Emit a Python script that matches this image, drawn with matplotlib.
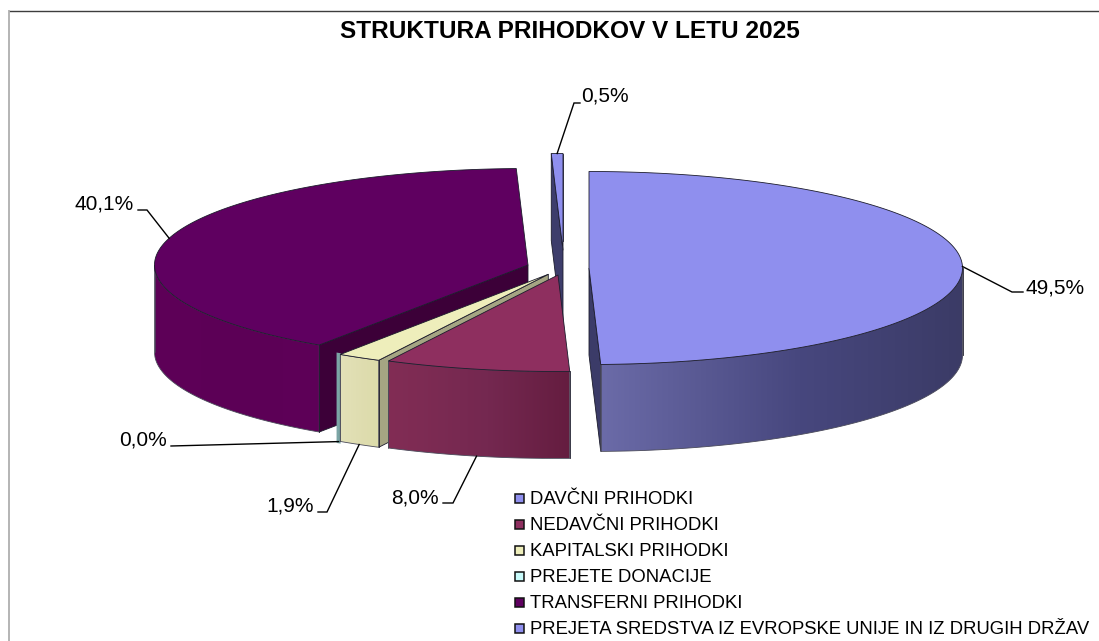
import numpy as np
import matplotlib
matplotlib.use("Agg")
import matplotlib.pyplot as plt
from matplotlib.colors import to_rgb
from matplotlib.patches import Polygon, Rectangle

plt.rcParams['font.family'] = ['Liberation Sans', 'DejaVu Sans']

# ---- data ----
title = "STRUKTURA PRIHODKOV V LETU 2025"
categories = ["DAVČNI PRIHODKI", "NEDAVČNI PRIHODKI", "KAPITALSKI PRIHODKI",
              "PREJETE DONACIJE", "TRANSFERNI PRIHODKI",
              "PREJETA SREDSTVA IZ EVROPSKE UNIJE IN IZ DRUGIH DRŽAV"]
shares = [49.5, 8.0, 1.9, 0.04, 40.06, 0.5]
share_labels = ["49,5%", "8,0%", "1,9%", "0,0%", "40,1%", "0,5%"]

# ---- styles and layout (pixels of the figure) ----
W, H = 1099, 641
RX, RY, DEPTH = 373.5, 96.5, 87
centers = [(589, 268), (558, 275), (548.3, 274.3), (547, 274.5), (528, 265), (563, 250)]
top_colors = ["#8f8fee", "#8e2f5f", "#eeeebb", "#c8fbfb", "#5f0060", "#8f8fee"]
cut_colors = ["#3b3b68", "#641d40", "#a5a583", "#7ba5a5", "#3c0038", "#3d3d6b"]
wall_stops = [
    ["#6b6ba8", "#47477e", "#3b3b66"],
    ["#822d55", "#742850", "#651d40"],
    ["#e3e1b8", "#dfddb0", "#dcdcaa"],
    ["#7ba5a5", "#7ba5a5", "#7ba5a5"],
    ["#5e0058", "#5c0056", "#5e0058"],
    ["#6b6ba8", "#47477e", "#3b3b66"],
]
edge = "#1c1c2c"
draw_order = [5, 4, 3, 2, 1, 0]

fig = plt.figure(figsize=(W / 100, H / 100), dpi=100, facecolor="white")
ax = fig.add_axes([0, 0, 1, 1])
ax.axis("off")

# chart frame
ax.plot([9, W], [10.5, 10.5], color="#3d3d3d", lw=1.0, solid_capstyle="butt")
ax.plot([9, 9], [10, H], color="#a8a8a8", lw=1.2, solid_capstyle="butt")

bounds = np.cumsum([0] + shares) / sum(shares) * 2 * np.pi


def rim(i, ang):
    cx, cy = centers[i]
    return cx + RX * np.sin(ang), cy - RY * np.cos(ang)


def gradient_image(i):
    stops = np.array([to_rgb(c) for c in wall_stops[i]])
    t = np.linspace(0, 1, 256)
    return np.stack([np.interp(t, [0, .55, 1], stops[:, k]) for k in range(3)], axis=-1)[None, :, :]


for z, i in enumerate(draw_order):
    a0, a1 = bounds[i], bounds[i + 1]
    cx, cy = centers[i]
    base = 2 + z * 3
    thin = shares[i] < 0.1
    # flat cut faces that can be seen from the front
    for a, seen in ((a0, np.sin(a0) < -1e-6), (a1, np.sin(a1) > 1e-6)):
        if seen and not thin:
            x, y = rim(i, a)
            ax.add_patch(Polygon([(cx, cy), (x, y), (x, y + DEPTH), (cx, cy + DEPTH)], closed=True,
                                 fc=cut_colors[i], ec=edge, lw=0.6, zorder=base))
    if i == 5:
        x, y = rim(i, a1)
        ax.plot([x, x], [y, y + DEPTH], color=edge, lw=0.6, zorder=base)
    # outer rim with a smooth horizontal shade
    lo, hi = max(a0, np.pi / 2), min(a1, 3 * np.pi / 2)
    if hi > lo:
        ang = np.linspace(lo, hi, 120)
        xs, ys = rim(i, ang)
        outline = list(zip(xs, ys)) + list(zip(xs[::-1], ys[::-1] + DEPTH))
        img = ax.imshow(gradient_image(i), extent=(xs.min(), xs.max(), ys.max() + DEPTH, ys.min()),
                        aspect="auto", zorder=base + 1, interpolation="bilinear")
        clip = Polygon(outline, closed=True, transform=ax.transData, fc="none", ec="none")
        ax.add_patch(clip)
        img.set_clip_path(clip)
        if thin:
            ax.add_patch(Polygon(outline, closed=True, fc="none", ec=cut_colors[i], lw=2.4, zorder=base + 1))
        else:
            ax.add_patch(Polygon(outline, closed=True, fc="none", ec="#4a4a5a", lw=0.6, zorder=base + 1))
            ax.plot(xs[[0, 0]], [ys[0], ys[0] + DEPTH], color=edge, lw=0.6, zorder=base + 1)
            ax.plot(xs[[-1, -1]], [ys[-1], ys[-1] + DEPTH], color="#4a4a5a", lw=0.5, zorder=base + 1)
    # top face
    if not thin:
        ang = np.linspace(a0, a1, max(int((a1 - a0) * 60), 3))
        xs, ys = rim(i, ang)
        ax.add_patch(Polygon([(cx, cy)] + list(zip(xs, ys)), closed=True, fc=top_colors[i],
                             ec=edge, lw=0.6, zorder=base + 2, joinstyle="round"))

# leader lines and value labels
label_elbows = [(1012, 292), (453, 503), (327, 512), None, (147, 210), (574, 103)]
label_ends = [(1023, 292), (443, 503), (318, 512), (171, 446), (138, 210), (580, 103)]
label_text = [(1026, 294), (439, 503), (314, 511), (167, 445), (134, 209), (581, 102)]
label_ha = ["left", "right", "right", "right", "right", "left"]
on_lower_rim = [False, True, True, True, False, False]
for i, lab in enumerate(share_labels):
    mid = (bounds[i] + bounds[i + 1]) / 2
    x, y = rim(i, mid)
    if on_lower_rim[i]:
        y += DEPTH
    pts = [(x, y)] + ([label_elbows[i]] if label_elbows[i] else []) + [label_ends[i]]
    ax.plot(*zip(*pts), color="black", lw=1.0, zorder=40, solid_joinstyle="miter")
    ax.text(*label_text[i], lab, ha=label_ha[i], va="baseline", fontsize=15, color="black", zorder=41)

ax.text(570, 38, title, ha="center", va="baseline", fontsize=17.6, fontweight="bold", color="black")

# legend
for i, name in enumerate(categories):
    yc = 498.3 + i * 26
    ax.add_patch(Rectangle((515.2, yc - 4.3), 8.6, 8.6, fc=top_colors[i], ec="#111111", lw=1.1, zorder=30))
    ax.text(529.5, yc + 6, name, ha="left", va="baseline", fontsize=13.3, color="black", zorder=30)

ax.set_xlim(0, W)
ax.set_ylim(H, 0)
fig.savefig("out.png", dpi=100, facecolor="white")
